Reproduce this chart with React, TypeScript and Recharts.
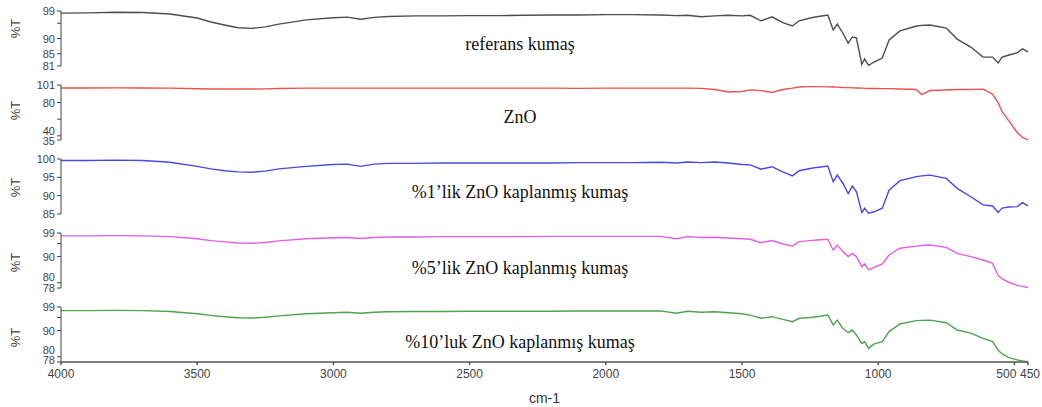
import React from 'react';
import { LineChart, Line, XAxis, YAxis } from 'recharts';

// wavenumbers (cm-1), shared by every spectrum
const wavenumbers = [
  4000, 3900, 3800, 3700, 3600, 3500, 3450, 3400, 3350, 3300,
  3250, 3200, 3100, 3000, 2950, 2900, 2850, 2800, 2700, 2600,
  2500, 2400, 2300, 2200, 2100, 2000, 1900, 1800, 1740, 1700,
  1650, 1600, 1550, 1500, 1470, 1430, 1390, 1350, 1315, 1290,
  1250, 1225, 1185, 1165, 1150, 1130, 1110, 1095, 1080, 1060,
  1050, 1035, 1015, 985, 960, 920, 860, 840, 810, 750,
  710, 660, 615, 580, 560, 545, 520, 490, 470, 450,
];

const referans = [
  98.3, 98.4, 98.6, 98.5, 98.0, 96.7, 95.4, 94.4, 93.5, 93.3,
  93.8, 94.7, 96.1, 96.8, 97.0, 96.3, 96.9, 97.2, 97.4, 97.4,
  97.5, 97.5, 97.6, 97.7, 97.7, 97.8, 97.8, 97.7, 97.5, 97.6,
  97.1, 97.4, 97.6, 97.4, 97.6, 95.8, 97.1, 95.2, 94.1, 95.8,
  96.7, 97.1, 97.7, 92.8, 94.7, 91.8, 88.5, 90.5, 90.2, 81.5,
  83.3, 81.2, 82.3, 83.6, 89.5, 92.5, 94.1, 94.3, 94.4, 93.4,
  89.8, 87.2, 83.9, 83.9, 82.0, 83.9, 84.6, 85.3, 86.6, 85.6,
];

const zno = [
  97.4, 97.4, 97.5, 97.4, 97.2, 96.5, 96.2, 96.2, 96.2, 96.2,
  96.3, 96.8, 97.2, 97.3, 97.3, 97.3, 97.3, 97.3, 97.3, 97.3,
  97.3, 97.3, 97.2, 97.2, 97.0, 97.2, 97.3, 97.3, 97.3, 97.3,
  97.0, 95.6, 92.6, 93.2, 95.2, 94.2, 92.0, 95.6, 97.2, 98.6,
  99.0, 99.0, 98.8, 98.6, 98.4, 98.0, 97.8, 97.6, 97.4, 97.2,
  97.0, 96.8, 96.8, 96.6, 96.6, 96.2, 95.6, 89.5, 94.4, 95.0,
  95.6, 95.6, 96.0, 90.0, 80.0, 69.0, 58.0, 44.0, 38.0, 35.2,
];

const znoKumas1 = [
  99.6, 99.6, 99.7, 99.6, 99.1, 98.0, 97.3, 96.8, 96.5, 96.4,
  96.7, 97.3, 98.0, 98.5, 98.6, 98.0, 98.6, 98.8, 98.8, 98.9,
  98.9, 98.9, 98.9, 98.9, 99.0, 99.0, 99.0, 99.1, 98.9, 99.2,
  99.0, 99.2, 98.9, 98.5, 98.4, 97.2, 97.9, 96.5, 95.4, 96.8,
  97.4, 97.7, 98.1, 93.8, 95.6, 93.4, 90.6, 92.6, 91.1, 85.4,
  86.6, 85.2, 85.6, 86.6, 91.5, 94.1, 95.2, 95.4, 95.6, 94.7,
  92.0, 89.7, 87.5, 87.2, 85.4, 86.6, 86.9, 87.0, 88.1, 87.2,
];

const znoKumas5 = [
  97.9, 97.9, 98.0, 97.9, 97.6, 96.8, 96.1, 95.6, 95.2, 95.1,
  95.4, 96.0, 96.8, 97.2, 97.3, 96.9, 97.3, 97.5, 97.5, 97.6,
  97.6, 97.6, 97.6, 97.7, 97.7, 97.7, 97.7, 97.7, 96.8, 97.6,
  97.3, 97.4, 97.1, 96.8, 96.6, 95.3, 96.1, 94.8, 94.0, 95.7,
  96.1, 96.3, 96.6, 92.5, 94.4, 91.9, 90.0, 91.2, 90.0, 86.1,
  87.2, 84.9, 85.9, 87.2, 90.6, 93.2, 94.0, 94.2, 94.4, 93.5,
  91.2, 90.0, 88.7, 87.4, 82.8, 81.5, 80.2, 79.0, 78.6, 78.2,
];

const znoKumas10 = [
  97.6, 97.6, 97.7, 97.6, 97.3, 96.4, 95.8, 95.3, 94.9, 94.8,
  95.1, 95.6, 96.4, 96.8, 97.0, 96.6, 97.0, 97.2, 97.3, 97.3,
  97.4, 97.4, 97.4, 97.4, 97.5, 97.5, 97.5, 97.5, 96.6, 97.4,
  97.0, 97.2, 96.8, 96.4, 95.9, 94.7, 95.3, 94.3, 93.4, 94.7,
  95.0, 95.3, 95.9, 92.1, 94.0, 90.9, 89.2, 90.2, 88.3, 85.1,
  85.8, 83.2, 84.9, 85.8, 89.6, 92.5, 93.8, 93.9, 94.0, 93.0,
  90.2, 89.0, 87.0, 85.8, 82.6, 81.1, 79.7, 78.8, 78.4, 78.1,
];

const xTicks = [4000, 3500, 3000, 2500, 2000, 1500, 1000, 500, 450];

const rows = wavenumbers.map((wn, i) => ({
  wn,
  ref: referans[i],
  zno: zno[i],
  k1: znoKumas1[i],
  k5: znoKumas5[i],
  k10: znoKumas10[i],
}));

const WIDTH = 1042;
const PAD = 8;
const PLOT_H = 55;
const X_AXIS_H = 45;

const panels = [
  { key: 'ref', caption: 'referans kumaş', color: '#4d4d4d', domain: [81, 99], ticks: [81, 85, 90, 95, 99], blank: [95], nudge: {}, top: 11, captionY: 44, titleShift: -10 },
  { key: 'zno', caption: 'ZnO', color: '#ee5050', domain: [35, 101], ticks: [35, 40, 60, 80, 101], blank: [60], nudge: { 40: -5, 35: 1 }, top: 85, captionY: 117, titleShift: -2 },
  { key: 'k1', caption: '%1’lik ZnO kaplanmış kumaş', color: '#4848e6', domain: [85, 100], ticks: [85, 90, 95, 100], blank: [], nudge: {}, top: 159, captionY: 192, titleShift: 1 },
  { key: 'k5', caption: '%5’lik ZnO kaplanmış kumaş', color: '#e25ee2', domain: [78, 99], ticks: [78, 80, 90, 95, 99], blank: [95], nudge: { 80: -6 }, top: 233, captionY: 268, titleShift: 2 },
  { key: 'k10', caption: '%10’luk ZnO kaplanmış kumaş', color: '#4ea44e', domain: [78, 99], ticks: [78, 80, 90, 95, 99], blank: [95], nudge: { 80: -7, 78: -2 }, top: 307, captionY: 342, titleShift: 3 },
];

type Panel = typeof panels[number];

const YTick = ({ x, y, payload, panel }: any) => {
  const v = payload.value;
  if (panel.blank.includes(v)) return null;
  return (
    <text x={x} y={y + (panel.nudge[v] ?? 0)} dy={4} textAnchor="end" fontSize={11} fill="#444">
      {v}
    </text>
  );
};

const XTick = ({ x, y, payload }: any) => {
  const v = payload.value;
  const dx = v === 500 ? -8 : v === 450 ? 2 : 0;
  return (
    <text x={x + dx} y={y} dy={11} textAnchor="middle" fontSize={12} fill="#444">
      {v}
    </text>
  );
};

function SpectrumPanel({ panel, last }: { panel: Panel; last: boolean }) {
  const height = PAD + PLOT_H + (last ? X_AXIS_H : PAD);
  const titleY = PAD + PLOT_H / 2 + panel.titleShift;
  return (
    <div style={{ position: 'absolute', left: 0, top: panel.top - PAD }}>
      <LineChart
        width={WIDTH}
        height={height}
        data={rows}
        margin={{ top: PAD, right: 14, left: 0, bottom: last ? 0 : PAD }}
      >
        <XAxis
          dataKey="wn"
          type="number"
          domain={[450, 4000]}
          reversed
          ticks={xTicks}
          interval={0}
          hide={!last}
          height={X_AXIS_H}
          tickSize={3}
          tick={<XTick />}
          stroke="#555"
          strokeWidth={1.5}
          label={{ value: 'cm-1', position: 'insideBottom', offset: 4, fontSize: 14, fill: '#333' }}
        />
        <YAxis
          domain={panel.domain}
          ticks={panel.ticks}
          interval={0}
          width={61}
          tickSize={4}
          stroke="#444"
          tick={<YTick panel={panel} />}
        />
        <Line
          type="linear"
          dataKey={panel.key}
          stroke={panel.color}
          strokeWidth={1.4}
          dot={false}
          isAnimationActive={false}
        />
        <text
          x={15}
          y={titleY}
          transform={`rotate(-90 15 ${titleY})`}
          textAnchor="middle"
          dominantBaseline="central"
          fontSize={13}
          fill="#444"
        >
          %T
        </text>
        <text
          x={520}
          y={panel.captionY - panel.top + PAD}
          textAnchor="middle"
          dominantBaseline="central"
          fontFamily="'Liberation Serif', 'Times New Roman', serif"
          fontSize={18}
          fill="#111"
        >
          {panel.caption}
        </text>
      </LineChart>
    </div>
  );
}

export default function App() {
  return (
    <div
      style={{
        position: 'absolute',
        left: 0,
        top: 0,
        width: WIDTH,
        height: 407,
        background: '#fff',
        fontFamily: "'Liberation Sans', Arial, sans-serif",
      }}
    >
      {panels.map((p, i) => (
        <SpectrumPanel key={p.key} panel={p} last={i === panels.length - 1} />
      ))}
    </div>
  );
}
